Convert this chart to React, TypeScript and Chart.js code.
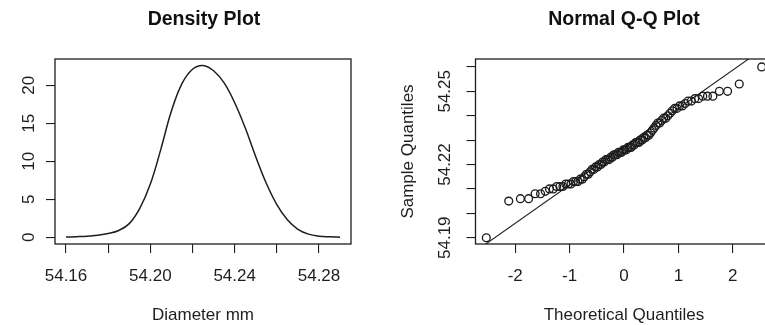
import React, { useEffect, useRef } from 'react';
import { Chart, registerables } from 'chart.js';

Chart.register(...registerables);

const FONT = '"Liberation Sans", Arial, Helvetica, sans-serif';
const INK = '#1e1e1e';

// Kernel density estimate of the measured diameters
const DENSITY_X = [
  54.160, 54.165, 54.170, 54.175, 54.180, 54.185, 54.190, 54.195, 54.200,
  54.205, 54.210, 54.215, 54.220, 54.225, 54.230, 54.235, 54.240, 54.245,
  54.250, 54.255, 54.260, 54.265, 54.270, 54.275, 54.280, 54.285, 54.290,
];
const DENSITY_Y = [
  0.03, 0.08, 0.15, 0.28, 0.5, 0.9, 1.8, 3.8, 7.0,
  11.6, 16.6, 20.2, 22.1, 22.6, 21.9, 20.3, 17.7, 14.4,
  10.6, 7.1, 4.3, 2.3, 1.05, 0.42, 0.15, 0.06, 0.02,
];

const DENSITY_X_TICKS = [54.16, 54.18, 54.2, 54.22, 54.24, 54.26, 54.28];
const DENSITY_X_LABELS = ['54.16', '', '54.20', '', '54.24', '', '54.28'];
const DENSITY_Y_TICKS = [0, 5, 10, 15, 20];
const DENSITY_Y_LABELS = ['0', '5', '10', '15', '20'];

// Sorted diameter sample (mm)
const SAMPLE = [
  54.190, 54.205, 54.206, 54.206, 54.208, 54.208, 54.209, 54.210, 54.210, 54.211,
  54.211, 54.211, 54.212, 54.212, 54.212, 54.213, 54.213, 54.213, 54.214, 54.214,
  54.215, 54.216, 54.216, 54.217, 54.218, 54.218, 54.219, 54.219, 54.220, 54.220,
  54.221, 54.221, 54.222, 54.222, 54.222, 54.223, 54.223, 54.224, 54.224, 54.224,
  54.225, 54.225, 54.225, 54.226, 54.226, 54.226, 54.227, 54.227, 54.227, 54.228,
  54.228, 54.229, 54.229, 54.229, 54.230, 54.230, 54.231, 54.231, 54.232, 54.232,
  54.233, 54.234, 54.235, 54.236, 54.237, 54.237, 54.238, 54.239, 54.239, 54.240,
  54.241, 54.242, 54.243, 54.243, 54.244, 54.244, 54.245, 54.246, 54.246, 54.247,
  54.247, 54.248, 54.248, 54.248, 54.250, 54.250, 54.253, 54.260,
];

const QQ_X_TICKS = [-2, -1, 0, 1, 2];
const QQ_X_LABELS = ['-2', '-1', '0', '1', '2'];
const QQ_Y_TICKS = [54.19, 54.2, 54.21, 54.22, 54.23, 54.24, 54.25, 54.26];
const QQ_Y_LABELS = ['54.19', '', '', '54.22', '', '', '54.25', ''];

// Reference line of the Q-Q plot (through the quartiles)
const QQ_LINE_INTERCEPT = 54.2273;
const QQ_LINE_SLOPE = 0.0157;

// Axis ranges
const DENSITY_X_RANGE = [54.15478, 54.29518];
const DENSITY_Y_RANGE = [-0.88, 23.45];
const QQ_X_RANGE = [-2.73, 2.73];
const QQ_Y_RANGE = [54.18742, 54.26324];

// Inverse standard normal CDF (Acklam's rational approximation)
function qnorm(p: number): number {
  const a = [-3.969683028665376e1, 2.209460984245205e2, -2.759285104469687e2, 1.38357751867269e2, -3.066479806614716e1, 2.506628277459239];
  const b = [-5.447609879822406e1, 1.615858368580409e2, -1.556989798598866e2, 6.680131188771972e1, -1.328068155288572e1];
  const c = [-7.784894002430293e-3, -3.223964580411365e-1, -2.400758277161838, -2.549732539343734, 4.374664141464968, 2.938163982698783];
  const d = [7.784695709041462e-3, 3.224671290700398e-1, 2.445134137142996, 3.754408661907416];
  const pl = 0.02425;
  const tail = (q: number) =>
    (((((c[0] * q + c[1]) * q + c[2]) * q + c[3]) * q + c[4]) * q + c[5]) /
    ((((d[0] * q + d[1]) * q + d[2]) * q + d[3]) * q + 1);
  if (p < pl) return tail(Math.sqrt(-2 * Math.log(p)));
  if (p > 1 - pl) return -tail(Math.sqrt(-2 * Math.log(1 - p)));
  const q = p - 0.5;
  const r = q * q;
  return (
    ((((((a[0] * r + a[1]) * r + a[2]) * r + a[3]) * r + a[4]) * r + a[5]) * q) /
    (((((b[0] * r + b[1]) * r + b[2]) * r + b[3]) * r + b[4]) * r + 1)
  );
}

// Plotting positions (i - 0.5) / n, as used by qqnorm
function theoreticalQuantiles(n: number): number[] {
  return Array.from({ length: n }, (_, i) => qnorm((i + 0.5) / n));
}

// Outer frame around the plotting region
const plotBox = {
  id: 'plotBox',
  afterDraw(chart: any) {
    const { ctx, chartArea } = chart;
    ctx.save();
    ctx.strokeStyle = INK;
    ctx.lineWidth = 1.3;
    ctx.strokeRect(chartArea.left, chartArea.top, chartArea.right - chartArea.left, chartArea.bottom - chartArea.top);
    ctx.restore();
  },
};

// Y tick labels written parallel to the axis
const rotatedYLabels = {
  id: 'rotatedYLabels',
  afterDraw(chart: any, _args: any, opts: any) {
    const { ctx, chartArea } = chart;
    const scale = chart.scales.y;
    ctx.save();
    ctx.fillStyle = INK;
    ctx.font = `17px ${FONT}`;
    ctx.textAlign = 'center';
    ctx.textBaseline = 'alphabetic';
    opts.ticks.forEach((v: number, i: number) => {
      const label = opts.labels[i];
      if (!label) return;
      ctx.save();
      ctx.translate(chartArea.left - opts.gap, scale.getPixelForValue(v));
      ctx.rotate(-Math.PI / 2);
      ctx.fillText(label, 0, 0);
      ctx.restore();
    });
    ctx.restore();
  },
};

const gridStyle = {
  drawOnChartArea: false,
  drawTicks: true,
  tickLength: 9,
  color: INK,
  lineWidth: 1.1,
};

function xAxis(range: number[], ticks: number[], labels: string[], title: string) {
  return {
    type: 'linear',
    position: 'bottom',
    min: range[0],
    max: range[1],
    afterBuildTicks: (scale: any) => {
      scale.ticks = ticks.map((value) => ({ value }));
    },
    afterFit: (scale: any) => {
      scale.height = 81;
    },
    grid: gridStyle,
    border: { display: false },
    ticks: {
      autoSkip: false,
      minRotation: 0,
      maxRotation: 0,
      padding: 13,
      color: INK,
      font: { family: FONT, size: 17, lineHeight: 1.2 },
      callback: (_v: any, i: number) => labels[i],
    },
    title: {
      display: true,
      text: title,
      color: INK,
      font: { family: FONT, size: 17, lineHeight: 1 },
      padding: { top: 0, bottom: 0.7 },
    },
  };
}

function yAxis(range: number[], ticks: number[], width: number, title?: string) {
  return {
    type: 'linear',
    position: 'left',
    min: range[0],
    max: range[1],
    afterBuildTicks: (scale: any) => {
      scale.ticks = ticks.map((value) => ({ value }));
    },
    afterFit: (scale: any) => {
      scale.width = width;
    },
    grid: gridStyle,
    border: { display: false },
    ticks: { display: false },
    title: title
      ? {
          display: true,
          text: title,
          color: INK,
          font: { family: FONT, size: 17, lineHeight: 1 },
          padding: { top: 15.2, bottom: 0 },
        }
      : { display: false },
  };
}

// Empty right-hand margin (keeps the title centred over the plot)
function rightMargin(width: number) {
  return {
    type: 'linear',
    position: 'right',
    display: true,
    min: 0,
    max: 1,
    afterFit: (scale: any) => {
      scale.width = width;
    },
    grid: { display: false },
    border: { display: false },
    ticks: { display: false },
    title: { display: false },
  };
}

function chartTitle(text: string) {
  return {
    display: true,
    text,
    color: '#111',
    font: { family: FONT, size: 19.5, weight: 'bold', lineHeight: 1.2 },
    padding: { top: 7.5, bottom: 28.1 },
  };
}

function densityConfig(): any {
  return {
    type: 'scatter',
    data: {
      datasets: [
        {
          data: DENSITY_X.map((x, i) => ({ x, y: DENSITY_Y[i] })),
          showLine: true,
          borderColor: INK,
          borderWidth: 1.5,
          pointRadius: 0,
          tension: 0.4,
          fill: false,
        },
      ],
    },
    options: {
      animation: false,
      responsive: false,
      devicePixelRatio: 1,
      events: [],
      layout: { padding: 0 },
      plugins: {
        legend: { display: false },
        tooltip: { enabled: false },
        title: chartTitle('Density Plot'),
        rotatedYLabels: { ticks: DENSITY_Y_TICKS, labels: DENSITY_Y_LABELS, gap: 21.5 },
      },
      scales: {
        x: xAxis(DENSITY_X_RANGE, DENSITY_X_TICKS, DENSITY_X_LABELS, 'Diameter mm'),
        y: yAxis(DENSITY_Y_RANGE, DENSITY_Y_TICKS, 55),
        margin: rightMargin(57),
      },
    },
    plugins: [rotatedYLabels, plotBox],
  };
}

function qqConfig(): any {
  const theo = theoreticalQuantiles(SAMPLE.length);
  const lineX = [QQ_X_RANGE[0] - 1, QQ_X_RANGE[1] + 1];
  return {
    type: 'scatter',
    data: {
      datasets: [
        {
          data: SAMPLE.map((y, i) => ({ x: theo[i], y })),
          pointRadius: 3.9,
          pointBorderWidth: 1.35,
          borderColor: '#1c1c1c',
          backgroundColor: 'rgba(0,0,0,0)',
          pointStyle: 'circle',
          showLine: false,
        },
        {
          data: lineX.map((x) => ({ x, y: QQ_LINE_INTERCEPT + QQ_LINE_SLOPE * x })),
          showLine: true,
          borderColor: INK,
          borderWidth: 1.1,
          pointRadius: 0,
          fill: false,
        },
      ],
    },
    options: {
      animation: false,
      responsive: false,
      devicePixelRatio: 1,
      events: [],
      layout: { padding: 0 },
      plugins: {
        legend: { display: false },
        tooltip: { enabled: false },
        title: chartTitle('Normal Q-Q Plot'),
        rotatedYLabels: { ticks: QQ_Y_TICKS, labels: QQ_Y_LABELS, gap: 26 },
      },
      scales: {
        x: xAxis(QQ_X_RANGE, QQ_X_TICKS, QQ_X_LABELS, 'Theoretical Quantiles'),
        y: yAxis(QQ_Y_RANGE, QQ_Y_TICKS, 90.5, 'Sample Quantiles'),
        margin: rightMargin(90.5),
      },
    },
    plugins: [rotatedYLabels, plotBox],
  };
}

function Panel({ makeConfig, left, width }: { makeConfig: () => any; left: number; width: number }) {
  const ref = useRef<HTMLCanvasElement | null>(null);
  useEffect(() => {
    if (!ref.current) return;
    const chart = new Chart(ref.current, makeConfig());
    return () => chart.destroy();
  }, [makeConfig]);
  return (
    <canvas
      ref={ref}
      width={width}
      height={325}
      style={{ position: 'absolute', left, top: 0, width, height: 325, display: 'block' }}
    />
  );
}

export default function App() {
  return (
    <div
      style={{
        position: 'absolute',
        left: 0,
        top: 0,
        width: 765,
        height: 325,
        overflow: 'hidden',
        background: '#ffffff',
      }}
    >
      <Panel makeConfig={densityConfig} left={0} width={408} />
      <Panel makeConfig={qqConfig} left={385} width={478} />
    </div>
  );
}
